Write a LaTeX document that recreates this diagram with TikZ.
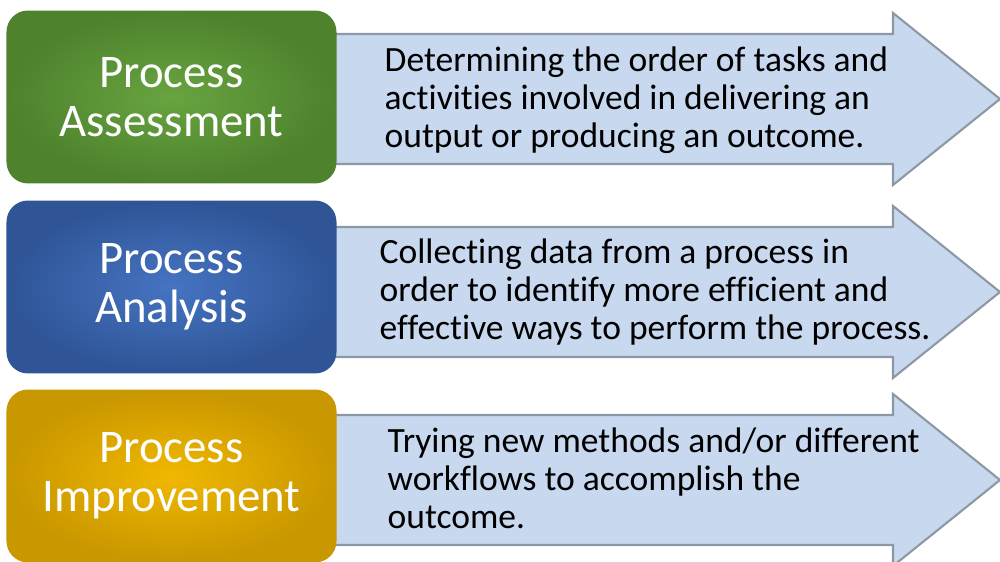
\documentclass[tikz,border=0pt]{standalone}
\usepackage{fontspec}
\setmainfont[Ligatures=NoCommon]{Carlito}
\usetikzlibrary{positioning}

\definecolor{greenmid}{HTML}{68A440}
\definecolor{greenedge}{HTML}{4E822D}
\definecolor{bluemid}{HTML}{4674C2}
\definecolor{blueedge}{HTML}{2F5597}
\definecolor{goldmid}{HTML}{F0B800}
\definecolor{goldedge}{HTML}{C99700}
\definecolor{arrowfill}{HTML}{C8D8EF}
\definecolor{arrowline}{HTML}{8D98A5}

\begin{document}
\begin{tikzpicture}[x=0.01cm, y=-0.01cm,
    stagebox/.style={rounded corners=0.2cm, minimum width=3.27cm, minimum height=1.7cm,
      align=center, text=white, line width=0.8pt, inner sep=0pt,
      font=\fontsize{13.3}{13.9}\selectfont, shading=radial},
    flowarrow/.style={fill=arrowfill, draw=arrowline, line width=0.6pt, line join=miter},
    notetext/.style={anchor=west, align=left, inner sep=0pt,
      font=\fontsize{10.1}{10.8}\selectfont}]
    \useasboundingbox (0,0) rectangle (1000,562);

    % Arrows behind the boxes
    \foreach \cy in {99,292,480}
      \draw[flowarrow] (320,\cy-65) -- (893,\cy-65) -- (893,\cy-86) -- (1000,\cy)
        -- (893,\cy+86) -- (893,\cy+65) -- (320,\cy+65) -- cycle;

    % Stage boxes
    \node[stagebox, draw=greenedge, inner color=greenmid, outer color=greenedge] (assess) at (171.5,97) {Process\\Assessment};
    \node[stagebox, draw=blueedge, inner color=bluemid, outer color=blueedge] (analysis) at (171.5,287) {Process\\Analysis};
    \node[stagebox, draw=goldedge, inner color=goldmid, outer color=goldedge] (improve) at (171.5,476) {Process\\Improvement};

    % Descriptions on the arrows
    \node[notetext] (assessnote) at (384,100) {Determining the order of tasks and\\activities involved in delivering an\\output or producing an outcome.};
    \node[notetext] (analysisnote) at (379,292) {Collecting data from a process in\\order to identify more efficient and\\effective ways to perform the process.};
    \node[notetext] (improvenote) at (387,478) {Trying new methods and/or different\\workflows to accomplish the\\outcome.};
\end{tikzpicture}
\end{document}
